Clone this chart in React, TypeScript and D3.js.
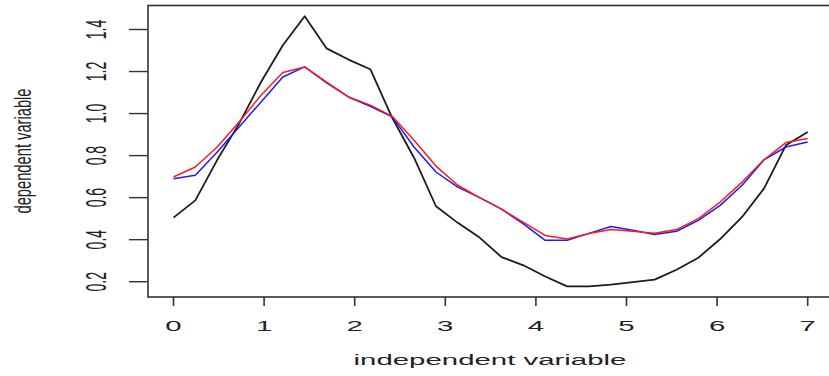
import React from "react";
import * as d3 from "d3";

// independent variable sample positions
const xValues = [
  0, 0.241, 0.483, 0.724, 0.966, 1.207, 1.448, 1.69, 1.931, 2.172,
  2.414, 2.655, 2.897, 3.138, 3.379, 3.621, 3.862, 4.103, 4.345, 4.586,
  4.828, 5.069, 5.31, 5.552, 5.793, 6.034, 6.276, 6.517, 6.759, 7,
];

// observed series (black)
const observed = [
  0.505, 0.587, 0.78, 0.952, 1.15, 1.325, 1.463, 1.31, 1.257, 1.211,
  0.98, 0.79, 0.559, 0.48, 0.41, 0.317, 0.278, 0.225, 0.178, 0.178,
  0.186, 0.198, 0.21, 0.257, 0.314, 0.403, 0.508, 0.643, 0.849, 0.912,
];

// first smoothed series (red)
const smoothRed = [
  0.698, 0.746, 0.841, 0.96, 1.087, 1.195, 1.222, 1.15, 1.079, 1.04,
  0.987, 0.873, 0.75, 0.659, 0.6, 0.545, 0.482, 0.42, 0.403, 0.429,
  0.448, 0.44, 0.43, 0.448, 0.5, 0.579, 0.674, 0.78, 0.862, 0.881,
];

// second smoothed series (blue)
const smoothBlue = [
  0.69, 0.706, 0.817, 0.936, 1.055, 1.174, 1.222, 1.146, 1.079, 1.035,
  0.984, 0.841, 0.722, 0.65, 0.6, 0.545, 0.475, 0.397, 0.397, 0.43,
  0.463, 0.445, 0.425, 0.44, 0.492, 0.563, 0.659, 0.78, 0.841, 0.865,
];

const xTicks = [0, 1, 2, 3, 4, 5, 6, 7];
const yTicks = [0.2, 0.4, 0.6, 0.8, 1.0, 1.2, 1.4];

const W = 829;
const H = 376;
const box = { left: 148, right: 832, top: 5.5, bottom: 297 };
const SX = 2.1; // horizontal stretch of the text

export default function App() {
  const x = d3.scaleLinear().domain([0, 7]).range([173.5, 807.7]);
  const y = d3.scaleLinear().domain([0.2, 1.4]).range([281.7, 29.5]);

  const line = d3
    .line<number>()
    .x((_, i) => x(xValues[i]))
    .y((v) => y(v));

  const series = [
    { data: observed, color: "#1c1c1c", width: 1.8 },
    { data: smoothBlue, color: "#1a1aff", width: 1.5 },
    { data: smoothRed, color: "#ff1a1a", width: 1.5 },
  ];

  const font = "'Liberation Sans', Arial, sans-serif";

  return (
    <svg
      width={W}
      height={H}
      style={{ position: "absolute", left: 0, top: 0, background: "#fff" }}
    >
      <rect x={0} y={0} width={W} height={H} fill="#fff" />

      {series.map((s, i) => (
        <path
          key={i}
          d={line(s.data) || ""}
          fill="none"
          stroke={s.color}
          strokeWidth={s.width}
          strokeLinejoin="round"
        />
      ))}

      {/* plot frame */}
      <rect
        x={box.left}
        y={box.top}
        width={box.right - box.left}
        height={box.bottom - box.top}
        fill="none"
        stroke="#333"
        strokeWidth={1.6}
      />

      {/* x axis */}
      {xTicks.map((t) => (
        <g key={t}>
          <line
            x1={x(t)}
            x2={x(t)}
            y1={box.bottom}
            y2={306}
            stroke="#333"
            strokeWidth={1.6}
          />
          <text
            transform={`translate(${x(t)},326) scale(${SX},1)`}
            textAnchor="middle"
            dominantBaseline="central"
            fontFamily={font}
            fontSize={14}
            fill="#222"
          >
            {t}
          </text>
        </g>
      ))}

      {/* y axis */}
      {yTicks.map((t) => (
        <g key={t}>
          <line
            x1={129}
            x2={box.left}
            y1={y(t)}
            y2={y(t)}
            stroke="#333"
            strokeWidth={1.4}
          />
          <text
            transform={`translate(96,${y(t)}) scale(${SX},1) rotate(-90)`}
            textAnchor="middle"
            dominantBaseline="central"
            fontFamily={font}
            fontSize={14}
            fill="#222"
          >
            {t.toFixed(1)}
          </text>
        </g>
      ))}

      <text
        transform={`translate(490,360) scale(${SX},1)`}
        textAnchor="middle"
        dominantBaseline="central"
        fontFamily={font}
        fontSize={14}
        fill="#222"
      >
        independent variable
      </text>

      <text
        transform={`translate(23,151) scale(1.6,1) rotate(-90)`}
        textAnchor="middle"
        dominantBaseline="central"
        fontFamily={font}
        fontSize={14.7}
        fill="#222"
      >
        dependent variable
      </text>
    </svg>
  );
}
